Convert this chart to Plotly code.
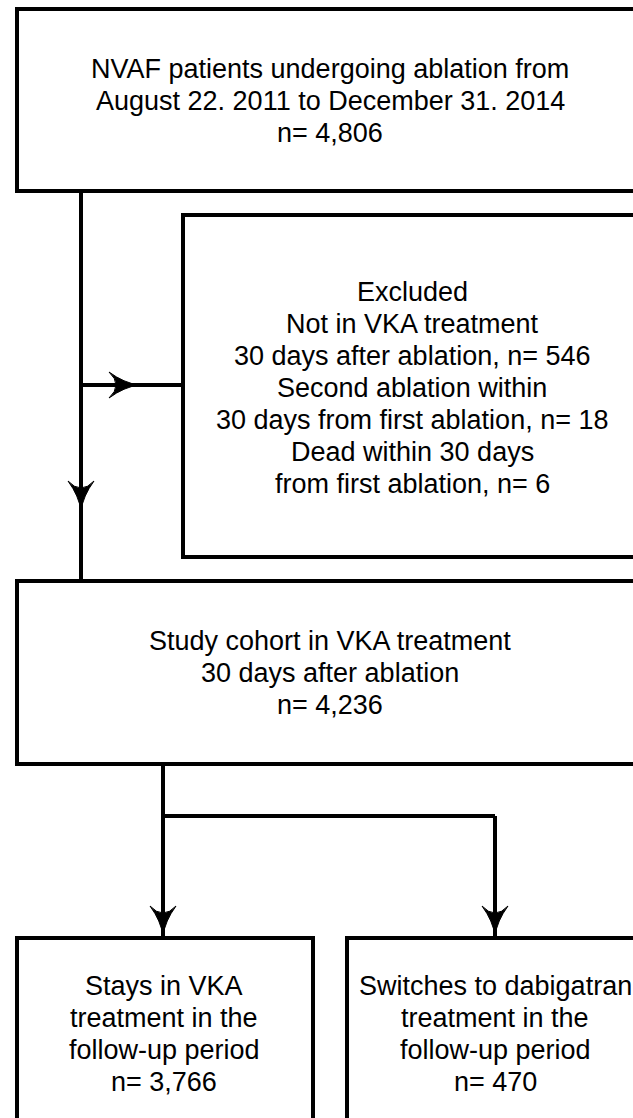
import plotly.graph_objects as go

# ---- data (flowchart content) ----
total_label = ["NVAF patients undergoing ablation from",
               "August 22. 2011 to December 31. 2014"]
total_n = "4,806"
excluded_reasons = ["Not in VKA treatment\n30 days after ablation",
                    "Second ablation within\n30 days from first ablation",
                    "Dead within 30 days\nfrom first ablation"]
excluded_n = ["546", "18", "6"]
cohort_label = ["Study cohort in VKA treatment", "30 days after ablation"]
cohort_n = "4,236"
stay_label = ["Stays in VKA", "treatment in the", "follow-up period"]
stay_n = "3,766"
switch_label = ["Switches to dabigatran", "treatment in the", "follow-up period"]
switch_n = "470"

# ---- text lines per box ----
box1_lines = total_label + ["n= " + total_n]
box2_lines = ["Excluded"]
for reason, n in zip(excluded_reasons, excluded_n):
    a, b = reason.split("\n")
    box2_lines += [a, b + ", n= " + n]
box3_lines = cohort_label + ["n= " + cohort_n]
box4_lines = stay_label + ["n= " + stay_n]
box5_lines = switch_label + ["n= " + switch_n]

# ---- layout (pixel coordinates, y downwards) ----
W, H = 633, 1118
LW = 4
FONT = dict(family="Liberation Sans, Arial, sans-serif", size=27, color="black")
LINE_H = 32

boxes = [  # x0, y0, x1, y1
    (17, 9, 643, 191),
    (183, 215, 643, 557),
    (17, 581, 643, 764),
    (17, 938, 313, 1130),
    (347, 938, 643, 1130),
]
text_blocks = [  # lines, center x, center y
    (box1_lines, 330, 101),
    (box2_lines, 412, 388),
    (box3_lines, 330, 673),
    (box4_lines, 164, 1034),
    (box5_lines, 495, 1034),
]
connectors = [  # x0, y0, x1, y1
    (81, 191, 81, 581),
    (81, 385, 183, 385),
    (163, 764, 163, 938),
    (163, 816, 495, 816),
    (495, 816, 495, 938),
]
arrowheads = [  # tip x, tip y, direction
    (139, 385, "right"),
    (81, 511, "down"),
    (163, 936, "down"),
    (495, 936, "down"),
]


def arrow_path(x, y, d, L=30, Wd=13):
    if d == "down":
        return (f"M {x},{y} Q {x-2},{y-L*0.5} {x-Wd},{y-L} "
                f"Q {x},{y-L+14} {x+Wd},{y-L} Q {x+2},{y-L*0.5} {x},{y} Z")
    else:  # right
        return (f"M {x},{y} Q {x-L*0.5},{y-2} {x-L},{y-Wd} "
                f"Q {x-L+14},{y} {x-L},{y+Wd} Q {x-L*0.5},{y+2} {x},{y} Z")


fig = go.Figure()
fig.add_trace(go.Scatter(x=[0, W], y=[0, H], mode="markers",
                         marker=dict(opacity=0), hoverinfo="skip", showlegend=False))

shapes = []
for x0, y0, x1, y1 in boxes:
    shapes.append(dict(type="rect", xref="x", yref="y", x0=x0, y0=y0, x1=x1, y1=y1,
                       line=dict(color="black", width=LW), fillcolor="rgba(0,0,0,0)"))
for x0, y0, x1, y1 in connectors:
    shapes.append(dict(type="line", xref="x", yref="y", x0=x0, y0=y0, x1=x1, y1=y1,
                       line=dict(color="black", width=LW)))
for x, y, d in arrowheads:
    shapes.append(dict(type="path", xref="x", yref="y", path=arrow_path(x, y, d),
                       fillcolor="black", line=dict(color="black", width=1)))

annotations = []
for lines, cx, cy in text_blocks:
    n = len(lines)
    for i, t in enumerate(lines):
        yy = cy + (i - (n - 1) / 2) * LINE_H
        annotations.append(dict(x=cx, y=yy, xref="x", yref="y", text=t, showarrow=False,
                                font=FONT, xanchor="center", yanchor="middle"))

fig.update_layout(
    width=W, height=H, margin=dict(l=0, r=0, t=0, b=0),
    paper_bgcolor="white", plot_bgcolor="white",
    xaxis=dict(range=[0, W], visible=False, fixedrange=True),
    yaxis=dict(range=[H, 0], visible=False, fixedrange=True),
    shapes=shapes, annotations=annotations, showlegend=False,
)
fig.write_html("out.html", config={"displayModeBar": False},
               post_script="document.body.style.margin='0';document.body.style.overflow='hidden';")
